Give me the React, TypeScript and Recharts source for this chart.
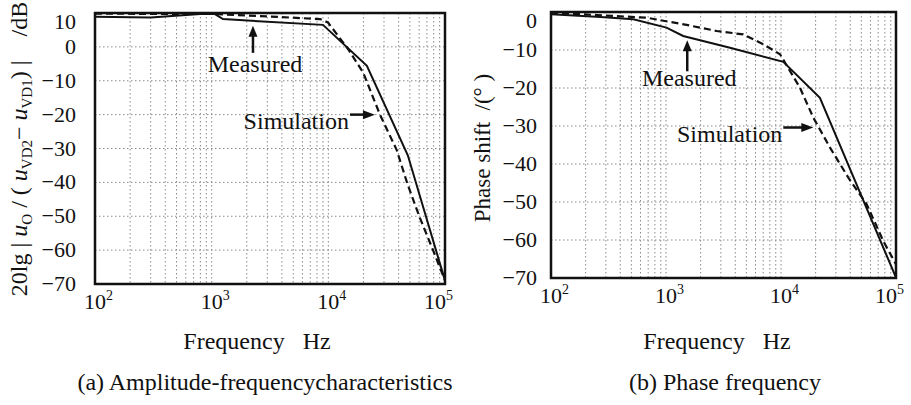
import React from "react"
import { LineChart, Line, XAxis, YAxis, CartesianGrid, ReferenceArea, ReferenceDot } from "recharts"

const FONT = "'Liberation Serif', 'Times New Roman', serif"
const INK = "#111"
const serif = { fontFamily: FONT }

// log grid positions, 10^2 .. 10^5
const freqTicks = [
  100, 200, 300, 400, 500, 600, 700, 800, 900,
  1000, 2000, 3000, 4000, 5000, 6000, 7000, 8000, 9000,
  10000, 20000, 30000, 40000, 50000, 60000, 70000, 80000, 90000,
  100000,
]
const decadeExp: Record<number, string> = { 100: "2", 1000: "3", 10000: "4", 100000: "5" }

const ampTicks = [-70, -60, -50, -40, -30, -20, -10, 0, 10]
const phaseTicks = [-70, -60, -50, -40, -30, -20, -10, 0]

// (a) amplitude, dB
const ampMeasFreq = [100, 300, 800, 1050, 1250, 9000, 21400, 48000, 100000]
const ampMeasDb = [8.9, 8.7, 9.7, 9.8, 8.2, 6.5, -5.6, -32, -69]
const ampSimFreq = [100, 1030, 2600, 8500, 9930, 14800, 19900, 27700, 38500, 47500, 60300, 79400, 100000]
const ampSimDb = [9.8, 9.7, 9.1, 8.2, 7.2, -0.7, -7.6, -20, -30.4, -40.3, -50.1, -60.2, -69]

// (b) phase, degrees
const phaseMeasFreq = [100, 270, 520, 1010, 1410, 3600, 10470, 21800, 100000]
const phaseMeasDeg = [-0.6, -1.3, -1.9, -4.1, -6.3, -9.4, -13.1, -22.6, -69.9]
const phaseSimFreq = [100, 250, 680, 1510, 2760, 4700, 7020, 9800, 14600, 19100, 26700, 38500, 55600, 77600, 100000]
const phaseSimDeg = [-0.2, -0.8, -1.5, -3.4, -5.0, -5.9, -8.5, -11.1, -19.9, -27.8, -35.7, -43.6, -50.6, -60.3, -66.4]

const pts = (fs: number[], vs: number[]) => fs.map((f, i) => ({ f, v: vs[i] }))

const ampMeasured = pts(ampMeasFreq, ampMeasDb)
const ampSimulated = pts(ampSimFreq, ampSimDb)
const phaseMeasured = pts(phaseMeasFreq, phaseMeasDeg)
const phaseSimulated = pts(phaseSimFreq, phaseSimDeg)

const minus = (v: number) => (v < 0 ? "\u2212" + Math.abs(v) : String(v))

const DecadeTick = (props: any) => {
  const { x, y, payload } = props
  const exp = decadeExp[payload.value]
  if (!exp) return null
  const start = exp === "5" ? x - 21 : x - 11
  return (
    <text x={start} y={y + 23} style={serif} fontSize={22} fill={INK}>
      <tspan>10</tspan>
      <tspan dy={-9} fontSize={14}>{exp}</tspan>
    </text>
  )
}

const ValueTick = (props: any) => {
  const { x, y, payload, top } = props
  const shift = payload.value === top ? 9 : 0
  return (
    <text x={x} y={y + shift} dy={7} textAnchor="end" style={serif} fontSize={22} fill={INK}>
      {minus(payload.value)}
    </text>
  )
}

const UpArrowNote = (props: any) => {
  const { cx, cy, text, shaft } = props
  return (
    <g>
      <line x1={cx} y1={cy + 8} x2={cx} y2={cy + shaft} stroke={INK} strokeWidth={2.5} />
      <polygon points={`${cx},${cy} ${cx - 4.5},${cy + 11} ${cx + 4.5},${cy + 11}`} fill={INK} />
      <text x={cx + 2} y={cy + 46} textAnchor="middle" style={serif} fontSize={24} fill={INK}>
        {text}
      </text>
    </g>
  )
}

const RightArrowNote = (props: any) => {
  const { cx, cy, text, shaft } = props
  return (
    <g>
      <line x1={cx - shaft} y1={cy} x2={cx - 8} y2={cy} stroke={INK} strokeWidth={2.5} />
      <polygon points={`${cx},${cy} ${cx - 12},${cy - 4.5} ${cx - 12},${cy + 4.5}`} fill={INK} />
      <text x={cx - shaft - 1} y={cy + 14} textAnchor="end" style={serif} fontSize={24} fill={INK}>
        {text}
      </text>
    </g>
  )
}

const Sub = ({ children }: { children: React.ReactNode }) => (
  <tspan fontSize={15} fontStyle="normal" dy={5}>{children}</tspan>
)

const AmpTitle = () => (
  <text
    transform="translate(27,149) rotate(-90)"
    textAnchor="middle"
    fontSize={24}
    fill={INK}
    style={{ ...serif, whiteSpace: "pre" }}
  >
    <tspan>20lg</tspan>
    <tspan> | </tspan>
    <tspan fontStyle="italic">u</tspan>
    <Sub>O</Sub>
    <tspan dy={-5}> / ( </tspan>
    <tspan fontStyle="italic">u</tspan>
    <Sub>VD2</Sub>
    <tspan dy={-5}>{"\u2212 "}</tspan>
    <tspan fontStyle="italic">u</tspan>
    <Sub>VD1</Sub>
    <tspan dy={-5}>) |    /dB</tspan>
  </text>
)

const PhaseTitle = () => (
  <text
    transform="translate(40,148) rotate(-90)"
    textAnchor="middle"
    fontSize={23}
    fill={INK}
    style={{ ...serif, whiteSpace: "pre" }}
  >
    Phase shift  /(° )
  </text>
)

const BottomText = ({ cx, caption }: { cx: number; caption: string }) => (
  <g>
    <text x={cx} y={349} textAnchor="middle" fontSize={24} fill={INK} style={{ ...serif, whiteSpace: "pre" }}>
      Frequency   Hz
    </text>
    <text x={cx + 8} y={390} textAnchor="middle" fontSize={24} fill={INK} style={serif}>
      {caption}
    </text>
  </g>
)

export default function App() {
  return (
    <div style={{ position: "absolute", left: 0, top: 0, width: 911, height: 405, background: "#fff", fontFamily: FONT }}>
      <div style={{ position: "absolute", left: 0, top: 0 }}>
        <LineChart width={460} height={405} margin={{ top: 13, right: 15, bottom: 91, left: 0 }}>
          <CartesianGrid stroke="#8a8a8a" strokeDasharray="1.5 2.5" />
          <XAxis
            type="number"
            dataKey="f"
            scale="log"
            domain={[100, 100000]}
            allowDataOverflow
            ticks={freqTicks}
            interval={0}
            tick={<DecadeTick />}
            tickLine={false}
            axisLine={false}
            tickSize={0}
            height={30}
            label={<BottomText cx={257} caption="(a) Amplitude-frequencycharacteristics" />}
          />
          <YAxis
            type="number"
            domain={[-70, 10]}
            allowDataOverflow
            ticks={ampTicks}
            interval={0}
            tick={<ValueTick top={10} />}
            tickLine={false}
            axisLine={false}
            tickSize={0}
            tickMargin={19}
            width={95}
            label={<AmpTitle />}
          />
          <ReferenceArea x1={100} x2={100000} y1={-70} y2={10} fill="none" stroke={INK} strokeWidth={2.5} />
          <Line data={ampSimulated} dataKey="v" type="linear" stroke={INK} strokeWidth={2.2}
            strokeDasharray="7 4" dot={false} isAnimationActive={false} />
          <Line data={ampMeasured} dataKey="v" type="linear" stroke={INK} strokeWidth={2}
            dot={false} isAnimationActive={false} />
          <ReferenceDot x={2260} y={6.2} shape={(p: any) => <UpArrowNote {...p} text="Measured" shaft={27} />} />
          <ReferenceDot x={25100} y={-20} shape={(p: any) => <RightArrowNote {...p} text="Simulation" shaft={25} />} />
        </LineChart>
      </div>
      <div style={{ position: "absolute", left: 450, top: 0 }}>
        <LineChart width={461} height={405} margin={{ top: 12, right: 15, bottom: 97, left: 0 }}>
          <CartesianGrid stroke="#8a8a8a" strokeDasharray="1.5 2.5" />
          <XAxis
            type="number"
            dataKey="f"
            scale="log"
            domain={[100, 100000]}
            allowDataOverflow
            ticks={freqTicks}
            interval={0}
            tick={<DecadeTick />}
            tickLine={false}
            axisLine={false}
            tickSize={0}
            height={30}
            label={<BottomText cx={267} caption="(b) Phase frequency" />}
          />
          <YAxis
            type="number"
            domain={[-70, 0]}
            allowDataOverflow
            ticks={phaseTicks}
            interval={0}
            tick={<ValueTick top={0} />}
            tickLine={false}
            axisLine={false}
            tickSize={0}
            tickMargin={14}
            width={101}
            label={<PhaseTitle />}
          />
          <ReferenceArea x1={100} x2={100000} y1={-70} y2={0} fill="none" stroke={INK} strokeWidth={2.5} />
          <Line data={phaseSimulated} dataKey="v" type="linear" stroke={INK} strokeWidth={2.2}
            strokeDasharray="7 4" dot={false} isAnimationActive={false} />
          <Line data={phaseMeasured} dataKey="v" type="linear" stroke={INK} strokeWidth={2}
            dot={false} isAnimationActive={false} />
          <ReferenceDot x={1530} y={-7.45} shape={(p: any) => <UpArrowNote {...p} text="Measured" shaft={31} />} />
          <ReferenceDot x={19100} y={-30.4} shape={(p: any) => <RightArrowNote {...p} text="Simulation" shaft={30} />} />
        </LineChart>
      </div>
    </div>
  )
}
